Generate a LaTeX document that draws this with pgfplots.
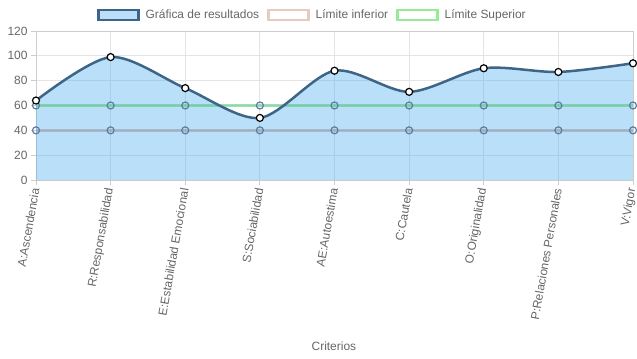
\documentclass[border=0pt]{standalone}
\usepackage{pgfplots}
\pgfplotsset{compat=1.18}
\usepackage{fontspec}
\setmainfont{Liberation Sans}
\definecolor{fillblue}{RGB}{54,162,235}
\definecolor{linecol}{RGB}{62,100,135}
\definecolor{lowcol}{RGB}{150,140,150}
\definecolor{lowleg}{RGB}{232,202,192}
\definecolor{upcol}{RGB}{90,205,130}
\definecolor{upleg}{RGB}{150,235,150}
\definecolor{pointblue}{RGB}{90,125,160}
\definecolor{gridgray}{RGB}{228,228,228}
\definecolor{axisgray}{RGB}{205,205,205}
\definecolor{labelgray}{RGB}{102,102,102}
\begin{document}
\begin{tikzpicture}
\begin{axis}[
  scale only axis, width=597bp, height=149bp,
  xmin=0, xmax=8, ymin=0, ymax=120,
  xtick={0,...,8},
  xticklabels={A:Ascendencia, R:Responsabilidad, E:Estabilidad Emocional, S:Sociabilidad, AE:Autoestima, C:Cautela, O:Originalidad, P:Relaciones Personales, V:Vigor},
  ytick={0,20,...,120},
  /pgf/number format/assume math mode=true,
  xtick pos=bottom, ytick pos=left,
  grid=major, major grid style={draw=gridgray, line width=0.8bp},
  axis line style={draw=axisgray, line width=0.8bp},
  tick style={draw=axisgray, line width=0.8bp},
  tick align=outside, major tick length=5bp,
  ticklabel style={font=\fontsize{12}{14}\selectfont, text=labelgray},
  x tick label style={rotate=80, anchor=east},
  clip=false,
  xlabel={Criterios},
  xlabel style={at={(axis description cs:0.499,-1.114)}, anchor=center, font=\fontsize{12}{14}\selectfont, text=labelgray},
  legend style={at={(axis description cs:0.463,1.107)}, anchor=center, draw=none, fill=none,
    font=\fontsize{12}{14}\selectfont, text=labelgray,
    /tikz/every odd column/.append style={column sep=4bp},
    /tikz/every even column/.append style={column sep=6bp}},
  legend columns=3, legend cell align=left,
]
\addlegendimage{legend image code/.code={\draw[draw=linecol, line width=2.5bp, fill=fillblue!34] (0bp,-5bp) rectangle (40bp,5bp);}}
\addlegendentry{Gráfica de resultados}
\addlegendimage{legend image code/.code={\draw[draw=lowleg, line width=2.5bp, fill=white] (0bp,-5bp) rectangle (40bp,5bp);}}
\addlegendentry{Límite inferior}
\addlegendimage{legend image code/.code={\draw[draw=upleg, line width=2.5bp, fill=white] (0bp,-5bp) rectangle (40bp,5bp);}}
\addlegendentry{Límite Superior}

\addplot[draw=none, fill=fillblue, fill opacity=0.34, smooth, forget plot]
  coordinates {(0,64) (1,99) (2,74) (3,50) (4,88) (5,71) (6,90) (7,87) (8,94)} \closedcycle;

\addplot[draw=lowcol, draw opacity=0.45, line width=3bp, forget plot,
  mark=o, mark size=3.5bp, mark options={draw=pointblue, draw opacity=1, line width=1.2bp}]
  coordinates {(0,40) (1,40) (2,40) (3,40) (4,40) (5,40) (6,40) (7,40) (8,40)};

\addplot[draw=upcol, draw opacity=0.6, line width=3bp, forget plot,
  mark=o, mark size=3.5bp, mark options={draw=pointblue, draw opacity=1, line width=1.2bp}]
  coordinates {(0,60) (1,60) (2,60) (3,60) (4,60) (5,60) (6,60) (7,60) (8,60)};

\addplot[draw=linecol, line width=2.5bp, smooth, forget plot,
  mark=*, mark size=3.5bp, mark options={draw=black, fill=white, line width=1.2bp}]
  coordinates {(0,64) (1,99) (2,74) (3,50) (4,88) (5,71) (6,90) (7,87) (8,94)};
\end{axis}
\pgfresetboundingbox
\path[use as bounding box] (-36bp,-179bp) rectangle (601bp,180bp);
\end{tikzpicture}
\end{document}
